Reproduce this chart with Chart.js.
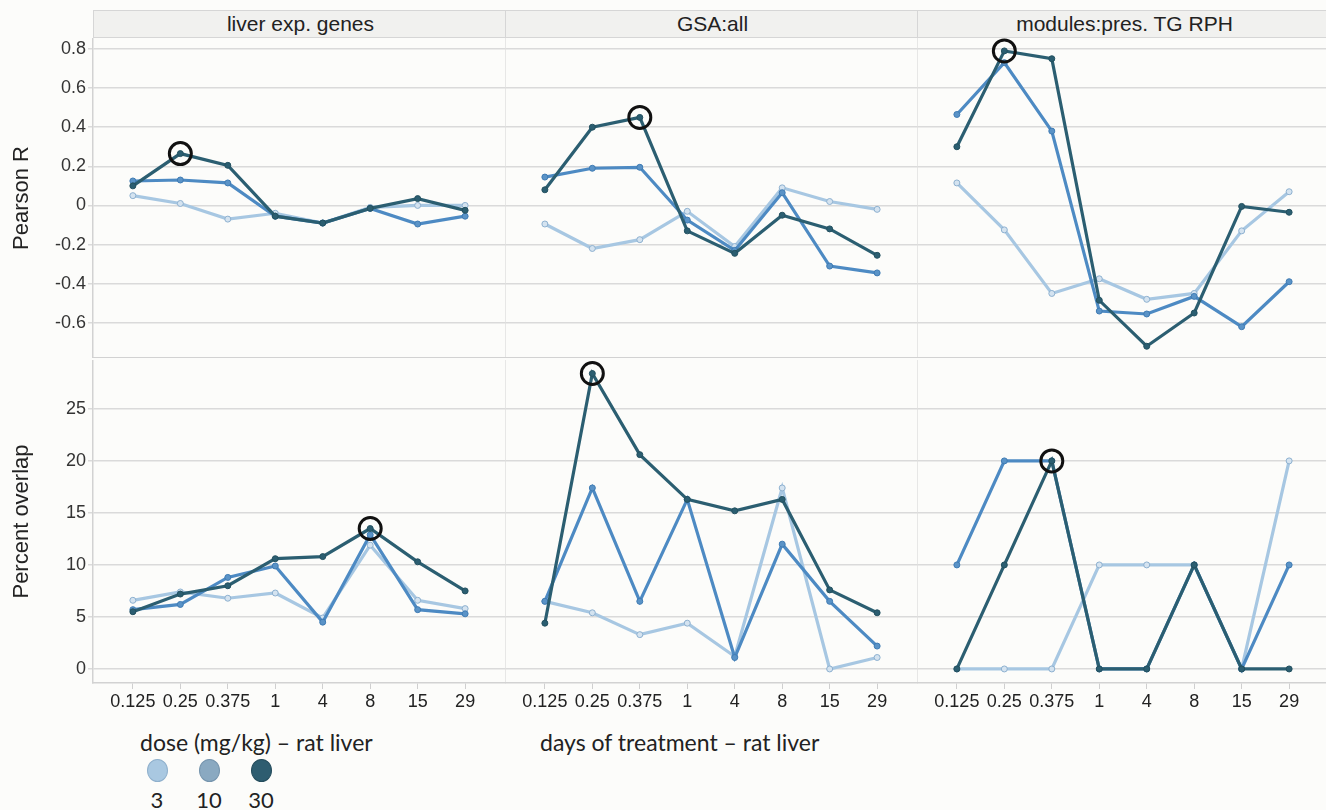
<!DOCTYPE html>
<html>
<head>
<meta charset="utf-8">
<script src="https://cdn.jsdelivr.net/npm/chart.js@4.4.1/dist/chart.umd.min.js"></script>
<style>
  body { margin: 0; background: #fcfcfa; font-family: "Liberation Sans", Arial, sans-serif; }
  #page { position: relative; width: 1326px; height: 810px; overflow: hidden; }
  canvas { position: absolute; }
  .strip { position: absolute; top: 10px; height: 28px; background: #f1f1ef; border: 1px solid #d6d6d6;
           border-right: none; box-sizing: border-box; text-align: center; font-size: 21px; line-height: 26px; color: #222; }
  .caption { position: absolute; font-family: Lato, sans-serif; font-size: 23px; line-height: 26px; color: #222; white-space: nowrap; }
  .dot { position: absolute; width: 21px; height: 23px; border-radius: 50%; box-sizing: border-box; border: 1px solid; }
  .dose { position: absolute; width: 40px; text-align: center; font-family: Lato, sans-serif; font-size: 22px; color: #222; }
</style>
</head>
<body>
<div id="page"></div>
<script>
// categories / labels
const days = ['0.125', '0.25', '0.375', '1', '4', '8', '15', '29'];
const panels = ['liver exp. genes', 'GSA:all', 'modules:pres. TG RPH'];
const doses = ['3', '10', '30'];
const rTicks = [-0.6, -0.4, -0.2, 0, 0.2, 0.4, 0.6, 0.8];
const oTicks = [0, 5, 10, 15, 20, 25];

// Pearson R (top row)
const liverR3  = [0.05, 0.01, -0.07, -0.04, -0.09, -0.01, 0.0, 0.0];
const liverR10 = [0.125, 0.13, 0.115, -0.055, -0.09, -0.015, -0.095, -0.055];
const liverR30 = [0.10, 0.265, 0.205, -0.055, -0.09, -0.015, 0.035, -0.025];
const gsaR3    = [-0.095, -0.22, -0.175, -0.03, -0.21, 0.09, 0.02, -0.02];
const gsaR10   = [0.145, 0.19, 0.195, -0.075, -0.23, 0.065, -0.31, -0.345];
const gsaR30   = [0.08, 0.40, 0.45, -0.13, -0.245, -0.05, -0.12, -0.255];
const modR3    = [0.115, -0.125, -0.45, -0.375, -0.48, -0.45, -0.13, 0.07];
const modR10   = [0.465, 0.73, 0.38, -0.54, -0.555, -0.465, -0.62, -0.39];
const modR30   = [0.30, 0.79, 0.75, -0.485, -0.72, -0.55, -0.005, -0.035];

// Percent overlap (bottom row)
const liverO3  = [6.6, 7.4, 6.8, 7.3, 4.9, 11.9, 6.6, 5.8];
const liverO10 = [5.7, 6.2, 8.8, 9.9, 4.5, 12.9, 5.7, 5.3];
const liverO30 = [5.5, 7.2, 8.0, 10.6, 10.8, 13.5, 10.3, 7.5];
const gsaO3    = [6.5, 5.4, 3.3, 4.4, 1.2, 17.4, 0, 1.1];
const gsaO10   = [6.5, 17.4, 6.5, 16.3, 1.1, 12.0, 6.5, 2.2];
const gsaO30   = [4.4, 28.4, 20.6, 16.3, 15.2, 16.3, 7.6, 5.4];
const modO3    = [0, 0, 0, 10, 10, 10, 0, 20];
const modO10   = [10, 20, 20, 0, 0, 10, 0, 10];
const modO30   = [0, 10, 20, 0, 0, 10, 0, 0];

// index of the circled (best) point on the 30 mg/kg line, per panel
const bestR = [1, 2, 1];
const bestO = [5, 1, 2];

const pearson = [[liverR3, liverR10, liverR30], [gsaR3, gsaR10, gsaR30], [modR3, modR10, modR30]];
const overlap = [[liverO3, liverO10, liverO30], [gsaO3, gsaO10, gsaO30], [modO3, modO10, modO30]];

const lineCol = ['#a7c7e2', '#4d8ac3', '#2b5e71'];
const ptFill = ['#d4e3f0', '#5a93c7', '#2b5e71'];
const ptEdge = ['#8db0cf', '#3f7bb3', '#23505f'];
const legendFill = ['#a9c8e1', '#8aa9c1', '#2e5d70'];
const legendEdge = ['#8fb0cc', '#7594ad', '#244c5c'];

const page = document.getElementById('page');
const colLeft = [93, 505, 917];
const panelW = 412;

// facet strips
panels.forEach((p, i) => {
  const d = document.createElement('div');
  d.className = 'strip';
  d.style.left = colLeft[i] + 'px';
  d.style.width = (panelW + 2) + 'px';
  d.textContent = p;
  page.appendChild(d);
});

function makeChart(row, col) {
  const isTop = row === 0;
  const first = col === 0;
  const c = document.createElement('canvas');
  const left = first ? 0 : colLeft[col];
  const width = first ? colLeft[0] + panelW : panelW;
  const top = isTop ? 38 : 360;
  const height = isTop ? 320 : 323 + 30;
  c.width = width; c.height = height;
  c.style.left = left + 'px'; c.style.top = top + 'px';
  page.appendChild(c);

  const series = isTop ? pearson[col] : overlap[col];
  const best = isTop ? bestR[col] : bestO[col];
  const pts = arr => arr.map((v, i) => ({ x: i, y: v }));

  const lines = [2, 1, 0].map(k => ({
    label: doses[k],
    data: pts(series[k]),
    borderColor: lineCol[k],
    borderWidth: 3.2,
    pointRadius: 3,
    pointBorderWidth: 1,
    pointBackgroundColor: ptFill[k],
    pointBorderColor: ptEdge[k],
    tension: 0
  }));
  const ring = {
    label: 'best',
    data: [{ x: best, y: series[2][best] }],
    showLine: false,
    pointRadius: 11,
    pointBorderWidth: 3,
    pointBorderColor: '#111',
    pointBackgroundColor: 'rgba(0,0,0,0)',
    clip: false
  };

  new Chart(c, {
    type: 'line',
    data: { datasets: [ring, ...lines] },
    options: {
      responsive: false,
      animation: false,
      layout: { padding: 0, autoPadding: false },
      plugins: { legend: { display: false }, tooltip: { enabled: false } },
      scales: {
        x: {
          type: 'linear',
          min: -0.84, max: 7.84,
          afterBuildTicks: s => { s.ticks = days.map((d, i) => ({ value: i })); },
          afterFit: s => { s.height = isTop ? 0 : 30; s.paddingLeft = 0; s.paddingRight = 0; },
          ticks: { display: !isTop, autoSkip: false, maxRotation: 0, minRotation: 0, padding: 2,
                   font: { family: 'Liberation Sans', size: 18 }, color: '#222',
                   callback: v => days[v] },
          grid: { drawOnChartArea: false, drawTicks: !isTop, tickLength: 6, color: '#cfcfcf' },
          border: { display: true, color: '#d2d2d2', width: 1.5 }
        },
        y: {
          min: isTop ? -0.78 : -1.35,
          max: isTop ? 0.856 : 29.7,
          afterBuildTicks: s => { s.ticks = (isTop ? rTicks : oTicks).map(v => ({ value: v })); },
          afterFit: s => { s.width = first ? 93 : 0; s.paddingTop = 0; s.paddingBottom = 0; },
          ticks: { display: first, padding: 2, font: { family: 'Liberation Sans', size: 18 }, color: '#333',
                   callback: v => isTop ? String(+v.toFixed(1)) : String(v) },
          grid: { color: '#dadada', lineWidth: 1.5, tickLength: 5, drawTicks: first },
          border: { display: true, color: '#d2d2d2', width: 1.5 },
          title: { display: first, text: isTop ? 'Pearson R' : 'Percent overlap',
                   font: { family: 'Liberation Sans', size: 22 }, color: '#222', padding: { top: 9, bottom: 0 } }
        }
      }
    }
  });
}

for (let r = 0; r < 2; r++) for (let c = 0; c < 3; c++) makeChart(r, c);

// axis caption + legend
function caption(text, x, y) {
  const d = document.createElement('div');
  d.className = 'caption';
  d.style.left = x + 'px'; d.style.top = y + 'px';
  d.textContent = text;
  page.appendChild(d);
}
caption('dose (mg/kg) \u2013 rat liver', 140, 729);
caption('days of treatment \u2013 rat liver', 540, 729);

doses.forEach((d, i) => {
  const cx = 157 + i * 52;
  const dot = document.createElement('div');
  dot.className = 'dot';
  dot.style.left = (cx - 10) + 'px'; dot.style.top = '759px';
  dot.style.background = legendFill[i]; dot.style.borderColor = legendEdge[i];
  page.appendChild(dot);
  const t = document.createElement('div');
  t.className = 'dose';
  t.style.left = (cx - 20) + 'px'; t.style.top = '786px';
  t.textContent = d;
  page.appendChild(t);
});
</script>
</body>
</html>
